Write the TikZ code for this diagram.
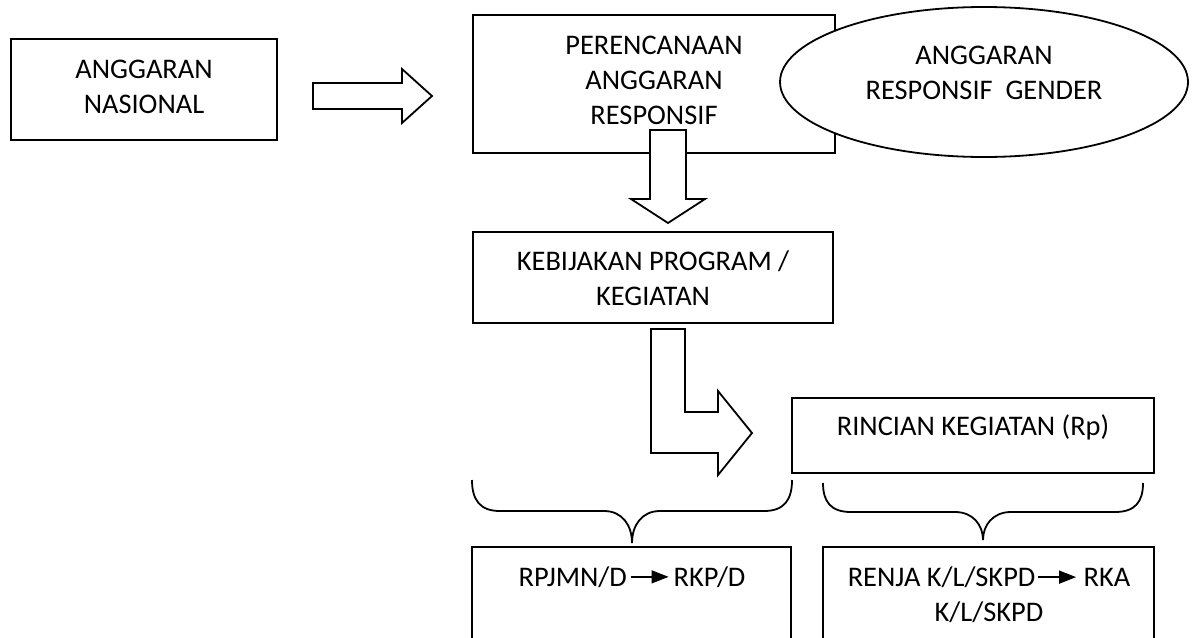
\documentclass[tikz,border=0pt]{standalone}
\usepackage{fontspec}
\setmainfont{Carlito}
\usetikzlibrary{shapes.geometric,fit,arrows.meta}
\newcommand{\inarr}{\tikz[baseline={(0pt,-0.322em)}]\draw[line width=1pt,-{Triangle[length=0.6em,width=0.45em]}](0pt,0pt)--(1.33em,0pt);}
\begin{document}
\begin{tikzpicture}[x=0.5pt,y=-0.5pt,line width=0.9pt,
  box/.style={draw,inner sep=0pt},
  txt/.style={align=center,inner sep=0pt,font=\fontsize{14.2pt}{17.5pt}\selectfont},
  blockarrow/.style={draw,fill=white,line join=miter},
  brace/.style={draw}]
\useasboundingbox (0,0) rectangle (1197,637);
\clip (0,0) rectangle (1197,637);
% boxes
\node[box,fit={(11,39) (277,140)}] (A) {};
\node[txt] (tA) at (144,86.5) {ANGGARAN\\NASIONAL};
\node[box,fit={(473,15) (835,153)}] (B) {};
\node[txt] (tB) at (654,80.75) {PERENCANAAN\\ANGGARAN\\RESPONSIF};
\node[draw,ellipse,fill=white,minimum width=204pt,minimum height=75pt,inner sep=0pt] (G) at (984,82) {};
\node[txt] (tG) at (984,73) {ANGGARAN\\RESPONSIF\ \ GENDER};
\node[box,fit={(473,232) (833,323)}] (C) {};
\node[txt] (tC) at (653,277.75) {KEBIJAKAN PROGRAM /\\KEGIATAN};
\node[box,fit={(792,398) (1154,473)}] (D) {};
\node[txt,anchor=base] (tD) at (973,435) {RINCIAN KEGIATAN (Rp)};
\node[box,fit={(472,547) (791,700)}] (E) {};
\node[txt,anchor=base] (tE) at (632,586) {RPJMN/D\kern1.5pt\inarr\kern2pt RKP/D};
\node[box,fit={(823,547) (1154,700)}] (F) {};
\node[txt] (tF) at (989,594.5) {RENJA K/L/SKPD\kern1pt\inarr{} RKA\\K/L/SKPD};
% block arrows
\draw[blockarrow] (313,83) -- (402,83) -- (402,69) -- (432,96) -- (402,123) -- (402,109) -- (313,109) -- cycle;
\draw[blockarrow] (650,130) -- (686,130) -- (686,199) -- (705,199) -- (668,223) -- (631,199) -- (650,199) -- cycle;
\draw[blockarrow] (651,329) -- (685,329) -- (685,412) -- (718,412) -- (718,391) -- (752,433) -- (718,475) -- (718,453) -- (651,453) -- cycle;
% braces
\draw[brace] (472,480) .. controls (472,500) and (480,511) .. (500,511) -- (604,511) .. controls (622,511) and (632,525) .. (632,543) .. controls (632,525) and (642,511) .. (660,511) -- (764,511) .. controls (784,511) and (792,500) .. (792,480);
\draw[brace] (823,483) .. controls (823,502) and (831,512) .. (851,512) -- (955,512) .. controls (973,512) and (983,525) .. (983,540) .. controls (983,525) and (993,512) .. (1011,512) -- (1115,512) .. controls (1135,512) and (1143,502) .. (1143,483);
\end{tikzpicture}
\end{document}
